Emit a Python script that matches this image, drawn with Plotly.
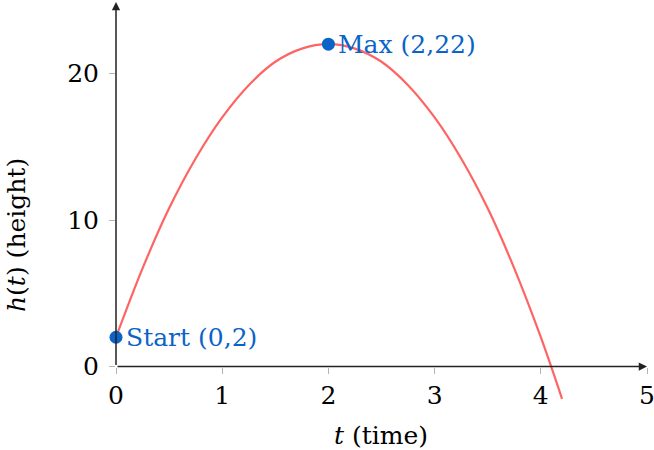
import plotly.graph_objects as go

# Curve values
t_vals = [0, 0.25, 0.5, 0.75, 1, 1.25, 1.5, 1.75, 2, 2.25, 2.5, 2.75, 3, 3.25, 3.5, 3.75, 4, 4.2]
h_vals = [2, 6.7, 10.8, 14.2, 17, 19.2, 20.8, 21.7, 22, 21.7, 20.8, 19.2, 17, 14.2, 10.8, 6.7, 2, -2.2]

# Highlighted points
pt_t = [0, 2]
pt_h = [2, 22]
pt_labels = ["Start (0,2)", "Max (2,22)"]

x_ticks = [0, 1, 2, 3, 4, 5]
y_ticks = [0, 10, 20]

X_RANGE = [0, 5]
Y_RANGE = [-2.42, 24.88]

FONT = "DejaVu Serif"
FS = 25
BLUE = "#0a64c8"
RED = "#ff6464"
TICKC = "#b4b4b4"

L, R, T, B = 116, 7, 2, 48
PW, PH = 654 - L - R, 450 - T - B

fig = go.Figure()
fig.add_trace(go.Scatter(x=t_vals, y=h_vals, mode="lines",
                         line=dict(color=RED, width=2.2, shape="spline"),
                         showlegend=False, hoverinfo="skip"))
fig.add_trace(go.Scatter(x=pt_t, y=pt_h, mode="markers",
                         marker=dict(color=BLUE, size=13),
                         showlegend=False, cliponaxis=False, hoverinfo="skip"))

zero_pos = (0 - Y_RANGE[0]) / (Y_RANGE[1] - Y_RANGE[0])

common_x = dict(range=X_RANGE, tickvals=x_ticks, showgrid=False, zeroline=False,
                showline=False, tickcolor=TICKC, ticklen=6, tickwidth=1,
                anchor="free", position=zero_pos, automargin=False,
                ticklabeloverflow="allow")
common_y = dict(range=Y_RANGE, tickvals=y_ticks, showgrid=False, zeroline=False,
                showline=False, tickcolor=TICKC, ticklen=6, tickwidth=1, automargin=False,
                ticklabeloverflow="allow")

fig.update_layout(
    width=654, height=450,
    margin=dict(l=L, r=R, t=T, b=B, autoexpand=False),
    plot_bgcolor="white", paper_bgcolor="white",
    font=dict(family=FONT, size=FS, color="black"),
    xaxis=dict(**common_x, ticks="outside", ticklabelstandoff=0),
    yaxis=dict(**common_y, ticks="outside", ticklabelstandoff=5),
    xaxis2=dict(**common_x, ticks="inside", showticklabels=False, overlaying="x"),
    yaxis2=dict(**common_y, ticks="inside", showticklabels=False, overlaying="y"),
)

# axis arrows
fig.add_annotation(x=X_RANGE[1], y=0, ax=0, ay=0, xref="x", yref="y",
                   axref="x", ayref="y", text="", showarrow=True,
                   arrowhead=2, arrowsize=1.1, arrowwidth=1.5, arrowcolor="#222")
fig.add_annotation(x=0, y=Y_RANGE[1], ax=0, ay=0, xref="x", yref="y",
                   axref="x", ayref="y", text="", showarrow=True,
                   arrowhead=2, arrowsize=1.1, arrowwidth=1.5, arrowcolor="#222")
# point labels
for tx, hy, lab in zip(pt_t, pt_h, pt_labels):
    fig.add_annotation(x=tx, y=hy, xref="x", yref="y", text=lab,
                       showarrow=False, xanchor="left", yanchor="middle",
                       xshift=8, font=dict(color=BLUE, size=FS, family=FONT))
# axis titles
fig.add_annotation(text="<i>t</i> (time)", showarrow=False,
                   xref="paper", yref="paper",
                   x=(381 - L) / PW, y=(450 - B - 435) / PH,
                   xanchor="center", yanchor="middle")
fig.add_annotation(text="<i>h</i>(<i>t</i>) (height)", textangle=-90, showarrow=False,
                   xref="paper", yref="paper",
                   x=(16 - L) / PW, y=(450 - B - 235) / PH,
                   xanchor="center", yanchor="middle")

fig.write_html("out.html", config={"displayModeBar": False},
               post_script="document.body.style.margin='0px';document.body.style.overflow='hidden';")
